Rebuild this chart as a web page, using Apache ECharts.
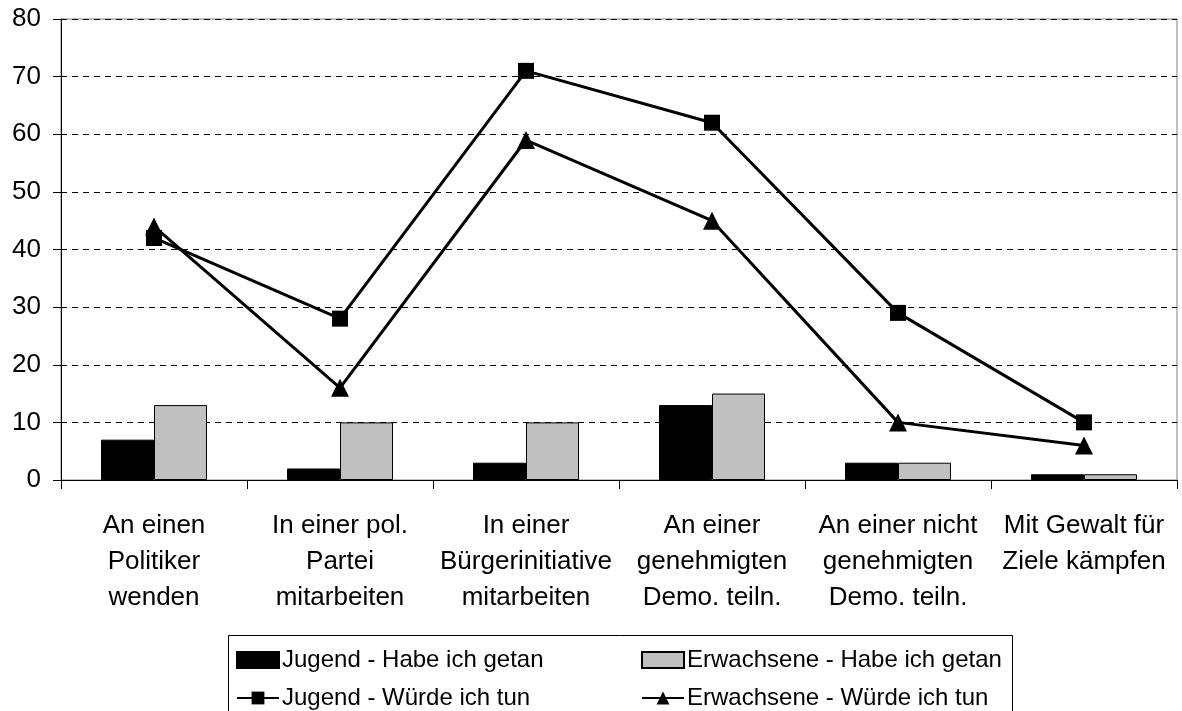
<!DOCTYPE html>
<html>
<head>
<meta charset="utf-8">
<script src="https://cdn.jsdelivr.net/npm/echarts@6/dist/echarts.min.js"></script>
<style>
  html, body { margin: 0; padding: 0; background: #fff; }
  #chart { width: 1182px; height: 711px; }
</style>
</head>
<body>
<div id="chart"></div>
<script>
// Kategorien und Werte (Prozent)
var categories = [
    'An einen\nPolitiker\nwenden',
    'In einer pol.\nPartei\nmitarbeiten',
    'In einer\nBürgerinitiative\nmitarbeiten',
    'An einer\ngenehmigten\nDemo. teiln.',
    'An einer nicht\ngenehmigten\nDemo. teiln.',
    'Mit Gewalt für\nZiele kämpfen'
];
var jugendGetan = [7, 2, 3, 13, 3, 1];
var erwachseneGetan = [13, 10, 10, 15, 3, 1];
var jugendWuerde = [42, 28, 71, 62, 29, 10];
var erwachseneWuerde = [44, 16, 59, 45, 10, 6];

var font = 'Liberation Sans, Arial, sans-serif';

var myChart = echarts.init(document.getElementById('chart'));

// Legende in zwei Spalten
var legendText = { fontSize: 24, lineHeight: 24, fontFamily: font, color: '#000', padding: [0, 0, 0, -2] };

var option = {
    animation: false,
    textStyle: { fontFamily: font, color: '#000' },
    grid: {
        left: 61,
        right: 5,
        top: 19,
        bottom: 231,
        show: true,
        borderColor: '#808080',
        borderWidth: 1,
        containLabel: false,
        outerBoundsMode: 'none'
    },
    legend: [
        {
            orient: 'vertical',
            left: 236,
            top: 648,
            padding: 0,
            itemWidth: 42,
            itemHeight: 16,
            itemGap: 14,
            textStyle: legendText,
            data: [
                { name: 'Jugend - Habe ich getan', icon: 'rect' },
                { name: 'Jugend - Würde ich tun' }
            ]
        },
        {
            orient: 'vertical',
            left: 641,
            top: 648,
            padding: 0,
            itemWidth: 42,
            itemHeight: 16,
            itemGap: 14,
            textStyle: legendText,
            data: [
                { name: 'Erwachsene - Habe ich getan', icon: 'rect' },
                { name: 'Erwachsene - Würde ich tun' }
            ]
        }
    ],
    graphic: [
        {
            type: 'rect',
            left: 228,
            top: 635,
            z: -1,
            shape: { width: 784, height: 100 },
            style: { fill: '#fff', stroke: '#000', lineWidth: 1 }
        }
    ],
    xAxis: {
        type: 'category',
        data: categories,
        boundaryGap: true,
        axisLine: { lineStyle: { color: '#000', width: 1 } },
        axisTick: { show: true, length: 9, interval: 0, lineStyle: { color: '#000' } },
        axisLabel: {
            interval: 0,
            fontSize: 26,
            lineHeight: 36,
            margin: 28,
            color: '#000',
            fontFamily: font
        },
        splitLine: { show: false }
    },
    yAxis: {
        type: 'value',
        min: 0,
        max: 80,
        interval: 10,
        axisLine: { show: true, lineStyle: { color: '#000', width: 1 } },
        axisTick: { show: true, length: 8, lineStyle: { color: '#000' } },
        axisLabel: { fontSize: 26, margin: 20, color: '#000', fontFamily: font },
        splitLine: { show: true, lineStyle: { color: '#000', type: [6, 5], width: 1 } }
    },
    series: [
        {
            name: 'Jugend - Habe ich getan',
            type: 'bar',
            data: jugendGetan,
            barWidth: 53,
            barGap: '0%',
            itemStyle: { color: '#000', borderColor: '#000', borderWidth: 1 }
        },
        {
            name: 'Erwachsene - Habe ich getan',
            type: 'bar',
            data: erwachseneGetan,
            barWidth: 53,
            barGap: '0%',
            itemStyle: { color: '#c0c0c0', borderColor: '#000', borderWidth: 1 }
        },
        {
            name: 'Jugend - Würde ich tun',
            type: 'line',
            data: jugendWuerde,
            symbol: 'rect',
            symbolSize: 16,
            z: 5,
            lineStyle: { color: '#000', width: 3 },
            itemStyle: { color: '#000' }
        },
        {
            name: 'Erwachsene - Würde ich tun',
            type: 'line',
            data: erwachseneWuerde,
            symbol: 'triangle',
            symbolSize: 18,
            z: 5,
            lineStyle: { color: '#000', width: 3 },
            itemStyle: { color: '#000' }
        }
    ]
};

myChart.setOption(option);
window.addEventListener('resize', function () {
    myChart.resize();
});
</script>
</body>
</html>
